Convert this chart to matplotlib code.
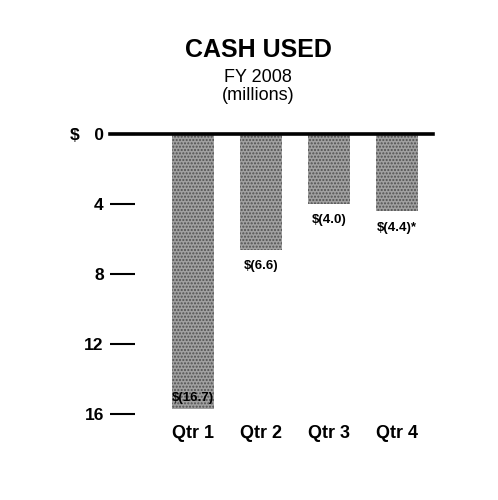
import matplotlib.pyplot as plt

# Data
quarters = ["Qtr 1", "Qtr 2", "Qtr 3", "Qtr 4"]
cash_used = [15.7, 6.6, 4.0, 4.4]
value_labels = [r"\$(16.7)", r"\$(6.6)", r"\$(4.0)", r"\$(4.4)*"]
tick_vals = [0, 4, 8, 12, 16]
tick_labels = [r"\$   0", "4", "8", "12", "16"]

font = ["Liberation Sans Narrow", "Liberation Sans", "DejaVu Sans"]
plt.rcParams["font.family"] = font

fig = plt.figure(figsize=(4.98, 5.0), dpi=100)
ax = fig.add_axes([0.221, 0.172, 0.649, 0.56])

x = list(range(len(quarters)))
ax.bar(x, cash_used, width=0.62, color="#a0a0a0", edgecolor="#505050",
       linewidth=0, hatch=".....")

ax.set_xlim(-1.22, 3.53)
ax.set_ylim(16, 0)
ax.axhline(0, color="black", lw=2.6, clip_on=False, zorder=5)

for s in ax.spines.values():
    s.set_visible(False)

ax.set_yticks(tick_vals)
ax.set_yticklabels(tick_labels, fontsize=12.5, fontweight="bold")
ax.tick_params(axis="y", direction="in", length=18, width=1.5, pad=4.5)
ax.set_xticks(x)
ax.set_xticklabels(quarters, fontsize=13, fontweight="bold")
ax.tick_params(axis="x", length=0, pad=8)

# value labels: first one sits inside the bar, others below
for i, (v, lab) in enumerate(zip(cash_used, value_labels)):
    if i == 0:
        ax.text(i, v - 0.6, lab, ha="center", va="center", fontsize=9.5,
                fontweight="bold", color="black")
    else:
        ax.text(i, v + 0.6, lab, ha="center", va="top", fontsize=9.5,
                fontweight="bold")

fig.text(0.518, 0.900, "CASH USED", ha="center", va="center",
         fontsize=18, fontweight="bold")
fig.text(0.518, 0.846, "FY 2008", ha="center", va="center", fontsize=13)
fig.text(0.518, 0.810, "(millions)", ha="center", va="center", fontsize=13)

fig.savefig("out.png", dpi=100, facecolor="white")
